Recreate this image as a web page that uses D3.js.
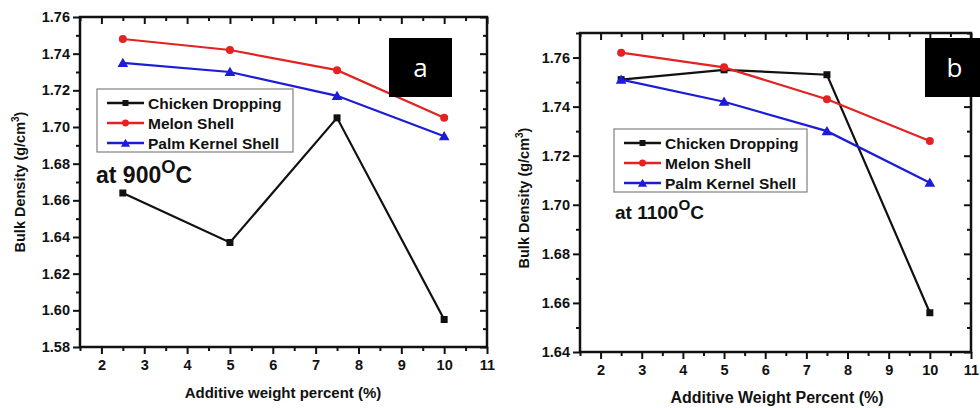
<!DOCTYPE html>
<html>
<head>
<meta charset="utf-8">
<script src="https://cdn.jsdelivr.net/npm/d3@7"></script>
<style>
  body { margin: 0; background: #ffffff; }
  text { font-family: "Liberation Sans", Arial, sans-serif; }
</style>
</head>
<body>
<div class="canvas"></div>
<script>
// values
const additive = [2.5, 5, 7.5, 10]
const seriesNames = ["Chicken Dropping", "Melon Shell", "Palm Kernel Shell"]
const seriesColors = ["#111111", "#e32222", "#1c1cd8"]

// panel a, 900 C
const chicken900 = [1.664, 1.637, 1.705, 1.595]
const melon900 = [1.748, 1.742, 1.731, 1.705]
const palm900 = [1.735, 1.730, 1.717, 1.695]

// panel b, 1100 C
const chicken1100 = [1.751, 1.755, 1.753, 1.656]
const melon1100 = [1.762, 1.756, 1.743, 1.726]
const palm1100 = [1.751, 1.742, 1.730, 1.709]

const xTicks = [2, 3, 4, 5, 6, 7, 8, 9, 10, 11]
const yTicksA = [1.58, 1.60, 1.62, 1.64, 1.66, 1.68, 1.70, 1.72, 1.74, 1.76]
const yTicksB = [1.64, 1.66, 1.68, 1.70, 1.72, 1.74, 1.76]

const width = 980
const height = 408

const svg = d3.select(".canvas")
    .append("svg")
    .attr("width", width)
    .attr("height", height)

function drawPanel(p) {
    const g = svg.append("g")
        .attr("transform", `translate(${p.left}, ${p.top})`)

    const w = p.right - p.left
    const h = p.bottom - p.top

    const x = d3.scaleLinear().domain([1.5, 11]).range([0, w])
    const y = d3.scaleLinear().domain(p.yDomain).range([h, 0])

    const minorX = d3.range(1.5, 11.01, 0.5).filter(v => !xTicks.includes(v))
    const minorY = d3.range(p.yDomain[0], p.yDomain[1] + 0.0001, 0.01)
        .map(v => +v.toFixed(3))
        .filter(v => !p.yTicks.some(t => Math.abs(t - v) < 1e-6))

    // minor ticks
    g.append("g").attr("transform", `translate(0, ${h})`)
        .call(d3.axisBottom(x).tickValues(minorX).tickSize(4).tickFormat(""))
    g.append("g")
        .call(d3.axisLeft(y).tickValues(minorY).tickSize(4).tickFormat(""))
    g.append("g")
        .call(d3.axisTop(x).tickValues(minorX).tickSize(-4).tickFormat(""))
    g.append("g").attr("transform", `translate(${w}, 0)`)
        .call(d3.axisRight(y).tickValues(minorY).tickSize(-4).tickFormat(""))

    // major ticks, outside on left/bottom, inside on top/right
    g.append("g").attr("transform", `translate(0, ${h})`)
        .call(d3.axisBottom(x).tickValues(xTicks).tickSize(7).tickPadding(6).tickFormat(d3.format("d")))
    g.append("g")
        .call(d3.axisLeft(y).tickValues(p.yTicks).tickSize(7).tickPadding(3).tickFormat(d3.format(".2f")))
    g.append("g")
        .call(d3.axisTop(x).tickValues(xTicks).tickSize(-7).tickFormat(""))
    g.append("g").attr("transform", `translate(${w}, 0)`)
        .call(d3.axisRight(y).tickValues(p.yTicks).tickSize(-7).tickFormat(""))

    g.selectAll(".domain").remove()
    g.selectAll(".tick line")
        .attr("stroke", "#111111")
        .attr("stroke-width", 2)
    g.selectAll(".tick text")
        .attr("fill", "#111111")
        .style("font-size", "14.5px")
        .style("font-weight", "bold")

    // plot frame
    g.append("rect")
        .attr("x", x(1.5)).attr("y", y(p.yDomain[1]))
        .attr("width", w).attr("height", h)
        .attr("fill", "none")
        .attr("stroke", "#111111")
        .attr("stroke-width", 2.5)

    // series
    const line = d3.line().x((d, i) => x(additive[i])).y(d => y(d))
    p.series.forEach((vals, k) => {
        g.append("path")
            .datum(vals)
            .attr("d", line)
            .attr("fill", "none")
            .attr("stroke", seriesColors[k])
            .attr("stroke-width", 2.2)
        vals.forEach((v, i) => marker(g, k, x(additive[i]), y(v), 1))
    })

    // legend
    const lg = svg.append("g").attr("transform", `translate(${p.legend[0]}, ${p.legend[1]})`)
    lg.append("rect")
        .attr("width", p.legendW).attr("height", 63)
        .attr("fill", "#ffffff")
        .attr("stroke", "#808080")
        .attr("stroke-width", 1.2)
    seriesNames.forEach((name, k) => {
        const ly = 14 + k * 20
        lg.append("line")
            .attr("x1", 10).attr("x2", 47).attr("y1", ly).attr("y2", ly)
            .attr("stroke", seriesColors[k]).attr("stroke-width", 2.5)
        marker(lg, k, 28.5, ly, 0.85)
        lg.append("text")
            .attr("x", 51).attr("y", ly + 5.5)
            .style("font-size", "15.5px").style("font-weight", "bold")
            .attr("fill", "#111111")
            .text(name)
    })

    // temperature note
    const t = svg.append("text")
        .attr("x", p.note[0]).attr("y", p.note[1])
        .style("font-size", p.noteSize + "px").style("font-weight", "bold")
        .attr("fill", "#111111")
    t.append("tspan").text(p.noteText)
    t.append("tspan").attr("dy", -p.noteSize * 0.45).style("font-size", (p.noteSize * 0.8) + "px").text("O")
    t.append("tspan").attr("dy", p.noteSize * 0.45).text("C")

    // axis titles
    const yl = svg.append("text")
        .attr("transform", `translate(${p.yLabel[0]}, ${p.yLabel[1]}) rotate(-90)`)
        .attr("text-anchor", "middle")
        .style("font-size", "14.5px").style("font-weight", "bold")
        .attr("fill", "#111111")
    yl.append("tspan").text("Bulk Density (g/cm")
    yl.append("tspan").attr("dy", -6).style("font-size", "10px").text("3")
    yl.append("tspan").attr("dy", 6).text(")")

    svg.append("text")
        .attr("x", p.xLabel[0]).attr("y", p.xLabel[1])
        .attr("text-anchor", "middle")
        .style("font-size", p.xLabelSize + "px").style("font-weight", "bold")
        .attr("fill", "#111111")
        .text(p.xLabelText)

    // panel letter
    svg.append("rect")
        .attr("x", p.badge[0]).attr("y", 38).attr("width", p.badge[2]).attr("height", 59)
        .attr("fill", "#000000")
    svg.append("text")
        .attr("x", p.badge[0] + p.badge[2] / 2 + (p.badgeText === "b" ? 2 : 0)).attr("y", 77)
        .attr("text-anchor", "middle")
        .style("font-family", "'Open Sans', 'DejaVu Sans', sans-serif")
        .style("font-size", "26px")
        .attr("fill", "#ffffff")
        .text(p.badgeText)
}

function marker(g, k, cx, cy, s) {
    if (k === 0) {
        g.append("rect")
            .attr("x", cx - 3.5 * s).attr("y", cy - 3.5 * s)
            .attr("width", 7 * s).attr("height", 7 * s)
            .attr("fill", seriesColors[k])
    } else if (k === 1) {
        g.append("circle")
            .attr("cx", cx).attr("cy", cy).attr("r", 4 * s)
            .attr("fill", seriesColors[k])
    } else {
        g.append("path")
            .attr("d", d3.symbol(d3.symbolTriangle, 50 * s * s)())
            .attr("transform", `translate(${cx}, ${cy + 1})`)
            .attr("fill", seriesColors[k])
    }
}

drawPanel({
    left: 80, right: 487, top: 17, bottom: 347,
    yDomain: [1.58, 1.76], yTicks: yTicksA,
    series: [chicken900, melon900, palm900],
    legend: [97, 89], legendW: 196,
    note: [96, 183], noteSize: 23, noteText: "at 900",
    yLabel: [25, 182],
    xLabel: [283, 398], xLabelSize: 15, xLabelText: "Additive weight percent (%)",
    badge: [389, 38, 63], badgeText: "a"
})

drawPanel({
    left: 580, right: 971, top: 33, bottom: 352,
    yDomain: [1.64, 1.77], yTicks: yTicksB,
    series: [chicken1100, melon1100, palm1100],
    legend: [614, 129], legendW: 193,
    note: [615, 219], noteSize: 19, noteText: "at 1100",
    yLabel: [529, 198],
    xLabel: [777, 403], xLabelSize: 16, xLabelText: "Additive Weight Percent (%)",
    badge: [925, 38, 55], badgeText: "b"
})
</script>
</body>
</html>
